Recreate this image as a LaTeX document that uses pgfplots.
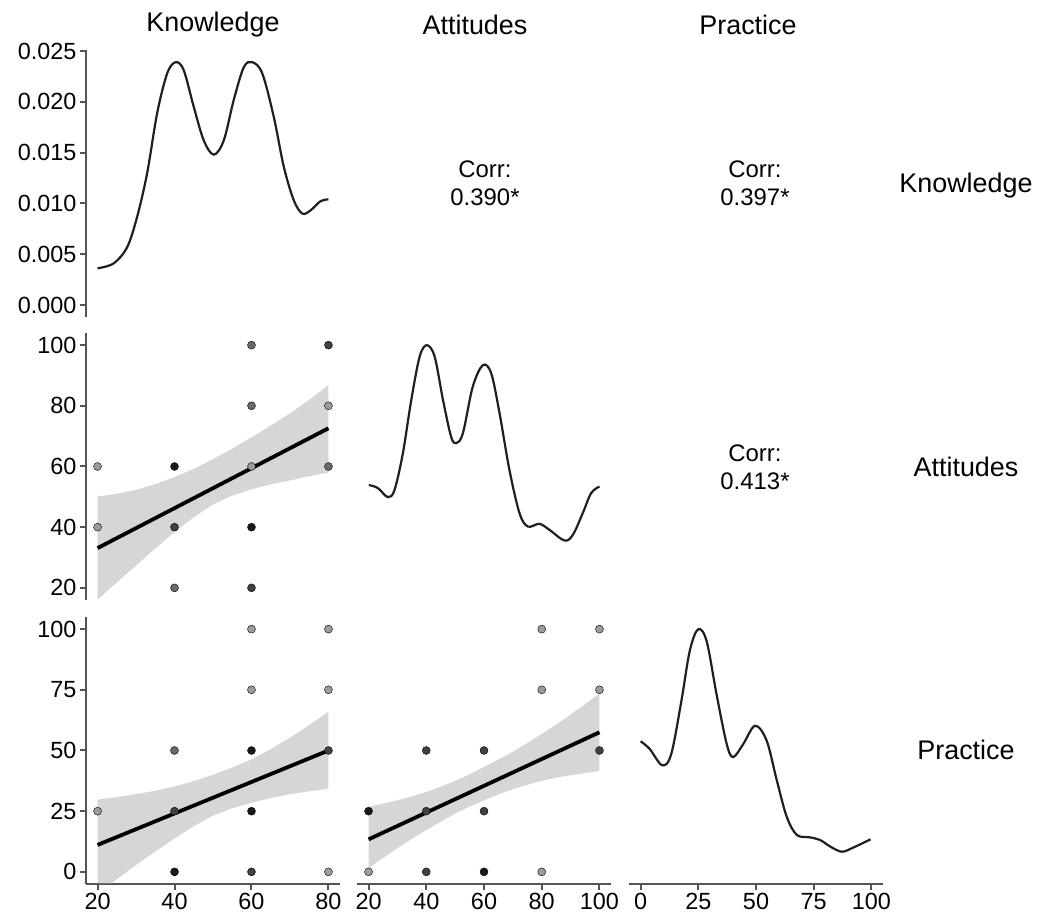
\documentclass[border=0pt]{standalone}
\usepackage{fontspec}
\setmainfont{Liberation Sans}
\usepackage{pgfplots}
\pgfplotsset{compat=1.18}
\definecolor{axgray}{RGB}{85,85,85}
\definecolor{bandgray}{RGB}{153,153,153}
\definecolor{pA}{RGB}{25,25,25}
\definecolor{pB}{RGB}{65,65,65}
\definecolor{pC}{RGB}{105,105,105}
\definecolor{pD}{RGB}{155,155,155}
\pgfplotsset{
  panel/.style={scale only axis, width=254bp, height=267bp, anchor=south west,
    axis x line*=bottom, axis y line*=left,
    axis line style={-, draw=axgray, line width=2bp},
    x axis line style={draw=none}, y axis line style={draw=none},
    tick style={draw=axgray, line width=2bp}, tick align=outside,
    major tick length=6bp, xtick=\empty, ytick=\empty,
    tick label style={font=\fontsize{23.5}{25}\selectfont},
    /pgf/number format/assume math mode=true, clip=true},
  showx/.style={x axis line style={draw=axgray}},
  showy/.style={y axis line style={draw=axgray}},
  dens/.style={smooth, tension=0.55, line width=2.2bp, color=black!88},
  pts/.style={only marks, mark=*, mark size=4bp, mark options={draw=none, fill=#1}},
  band/.style={fill=bandgray, fill opacity=0.4, draw=none},
  reg/.style={line width=3.8bp, color=black},
}
\begin{document}
\begin{tikzpicture}[x=1bp,y=1bp]
\useasboundingbox (0,0) rectangle (1047,921);
% ---------------- Row 1 ----------------
\begin{axis}[panel, showy, at={(86bp,604bp)}, xmin=17, xmax=83, ymin=-0.00118, ymax=0.0251,
  ytick={0,0.005,0.01,0.015,0.02,0.025}, scaled y ticks=false,
  yticklabel style={/pgf/number format/.cd, fixed, fixed zerofill, precision=3}]
\addplot[dens] coordinates {
(20,0.00361) (24.2,0.0041) (27.7,0.0057) (30.3,0.0087) (32.9,0.0130) (35.5,0.0189)
(38.1,0.0228) (40.3,0.0239) (42.4,0.0231) (45.0,0.0195) (47.6,0.0162) (50.2,0.0148)
(52.8,0.0162) (55.4,0.0202) (58.0,0.0234) (60.2,0.0239) (62.8,0.0228) (65.8,0.0185)
(68.4,0.0136) (71.0,0.0103) (73.2,0.0090) (75.3,0.0093) (77.9,0.0102) (80,0.0104)};
\end{axis}
% ---------------- Row 2 ----------------
\begin{axis}[panel, showy, at={(86bp,321bp)}, xmin=17, xmax=83, ymin=16, ymax=104,
  ytick={20,40,60,80,100}]
\addplot[pts=pD] coordinates {(20,60) (20,40) (80,80) (60,60)};
\addplot[pts=pC] coordinates {(60,100) (60,80) (80,60) (40,20)};
\addplot[pts=pB] coordinates {(40,40) (60,20) (80,100)};
\addplot[pts=pA] coordinates {(40,60) (60,40)};
\addplot[band] coordinates {
(20,50.1) (25,51.0) (30,52.3) (35,54.2) (40,56.5) (45,59.2) (50,62.4) (55,65.9) (60,69.6)
(65,73.5) (70,77.5) (75,82.0) (80,86.8)
(80,58.0) (75,56.8) (70,55.4) (65,54.1) (60,52.5) (55,50.4) (50,47.5) (45,43.3) (40,38.4)
(35,33.0) (30,27.3) (25,21.8) (20,16.1)};
\addplot[reg] coordinates {(20,33.1) (80,72.6)};
\end{axis}
\begin{axis}[panel, at={(357bp,321bp)}, xmin=16, xmax=104, ymin=16, ymax=104]
\addplot[dens] coordinates {
(20.1,53.9) (23.2,52.9) (26.7,49.9) (29.0,52.3) (31.9,64.4) (34.8,81.9) (37.7,96.2)
(40.2,100) (42.9,96.2) (45.8,81.9) (48.6,69.8) (50.4,67.7) (52.7,71.0) (56.1,86.3)
(59.6,93.4) (62.5,90.7) (65.4,77.5) (68.8,58.9) (72.3,44.6) (75.2,40.2) (79.2,41.1)
(82.7,39.1) (87.9,35.6) (90.8,37.5) (94.2,44.6) (97.1,51.2) (100,53.4)};
\end{axis}
% ---------------- Row 3 ----------------
\begin{axis}[panel, showx, showy, at={(86bp,37bp)}, xmin=17, xmax=83, ymin=-5, ymax=105,
  xtick={20,40,60,80}, ytick={0,25,50,75,100}]
\addplot[pts=pD] coordinates {(20,25) (60,100) (60,75) (80,100) (80,75) (80,0)};
\addplot[pts=pC] coordinates {(40,50)};
\addplot[pts=pB] coordinates {(40,25) (60,0) (80,50)};
\addplot[pts=pA] coordinates {(40,0) (60,50) (60,25)};
\addplot[band] coordinates {
(20,29.8) (25,30.8) (30,32.0) (35,33.4) (40,35.2) (45,37.4) (50,40.0) (55,43.0) (60,46.3)
(65,50.6) (70,55.3) (75,60.5) (80,66.0)
(80,34.3) (75,33.2) (70,32.0) (65,30.4) (60,28.5) (55,26.2) (50,23.2) (45,18.8) (40,13.8)
(35,8.4) (30,2.8) (25,-3.1) (20,-9)};
\addplot[reg] coordinates {(20,11.1) (80,50.0)};
\end{axis}
\begin{axis}[panel, showx, at={(357bp,37bp)}, xmin=16, xmax=104, ymin=-5, ymax=105,
  xtick={20,40,60,80,100}]
\addplot[pts=pD] coordinates {(20,0) (80,100) (80,75) (80,0) (100,100) (100,75)};
\addplot[pts=pB] coordinates {(40,50) (40,25) (40,0) (60,50) (60,25) (100,50)};
\addplot[pts=pA] coordinates {(20,25) (60,0)};
\addplot[band] coordinates {
(20,26.8) (25,28.1) (30,29.5) (35,31.1) (40,32.9) (45,35.1) (50,37.5) (55,40.2) (60,43.2)
(65,46.3) (70,49.5) (75,53.1) (80,56.8) (85,60.7) (90,64.8) (95,69.1) (100,73.5)
(100,41.5) (95,40.7) (90,39.8) (85,38.8) (80,37.5) (75,35.9) (70,34.0) (65,31.9) (60,29.5)
(55,26.9) (50,24.0) (45,20.7) (40,17.2) (35,13.6) (30,9.8) (25,5.7) (20,1.5)};
\addplot[reg] coordinates {(20,13.4) (100,57.5)};
\end{axis}
\begin{axis}[panel, showx, at={(629bp,37bp)}, xmin=-5, xmax=105, ymin=-5, ymax=105,
  xtick={0,25,50,75,100}]
\addplot[dens] coordinates {
(0,53.8) (3.9,50.7) (9.4,43.9) (13.3,48.6) (17.7,70.5) (21.3,91.0) (24.9,99.9)
(28.6,95.1) (32.9,73.2) (37.3,52.7) (40.1,47.3) (44.5,52.7) (49.6,60.2) (54.6,54.1)
(59.0,37.7) (63.3,22.7) (67.7,15.2) (73.5,14.2) (77.8,13.1) (82.2,10.4) (87.2,8.3)
(92.3,10.1) (99.6,13.4)};
\end{axis}
% ---------------- Texts ----------------
\begin{scope}[every node/.style={font=\fontsize{27}{30}\selectfont}]
\node at (213,896) {Knowledge};
\node at (475,896) {Attitudes};
\node at (748,896) {Practice};
\node at (966,735) {Knowledge};
\node at (966,454) {Attitudes};
\node at (966,171) {Practice};
\end{scope}
\begin{scope}[every node/.style={font=\fontsize{24}{28}\selectfont, align=center}]
\node at (485,738) {Corr:\\0.390*};
\node at (755,738) {Corr:\\0.397*};
\node at (755,454) {Corr:\\0.413*};
\end{scope}
\end{tikzpicture}
\end{document}
